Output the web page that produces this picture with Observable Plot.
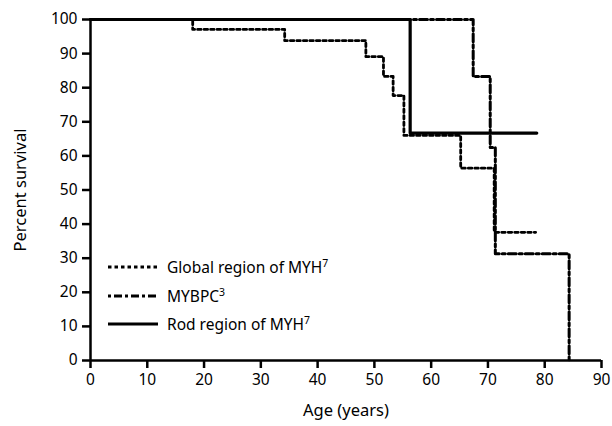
<!DOCTYPE html>
<html>
<head>
<meta charset="utf-8">
<script src="https://cdn.jsdelivr.net/npm/d3@7"></script>
<script src="https://cdn.jsdelivr.net/npm/@observablehq/plot@0.6"></script>
<style>
  body { margin: 0; background: #fff; }
  #wrap { position: relative; width: 612px; height: 426px; font-family: "Noto Sans", sans-serif; }
  #legend { position: absolute; left: 108px; top: 253px; font-size: 15.5px; color: #000; }
  #legend .row { display: flex; align-items: center; height: 28.5px; }
  #legend svg { margin-right: 9px; }
  sup { font-size: 10.5px; vertical-align: 6px; line-height: 0; }
</style>
</head>
<body>
<div id="wrap"></div>
<script>
// Kaplan-Meier step data (age in years, percent survival)
const globalAge  = [0, 18.0, 34.2, 48.5, 51.6, 53.3, 55.2, 65.2, 71.1, 78.4];
const globalSurv = [100, 97.1, 93.8, 89.1, 83.3, 77.7, 66.0, 56.4, 37.6, 37.6];
const mybpcAge   = [0, 67.4, 70.4, 71.3, 84.3];
const mybpcSurv  = [100, 83.3, 62.5, 31.3, 0];
const rodAge     = [0, 56.3, 78.6];
const rodSurv    = [100, 66.7, 66.7];
const xTicks = [0, 10, 20, 30, 40, 50, 60, 70, 80, 90];
const yTicks = [0, 10, 20, 30, 40, 50, 60, 70, 80, 90, 100];
const seriesNames = ["Global region of MYH", "MYBPC", "Rod region of MYH"];
const seriesSup = ["7", "3", "7"];

const toRows = (ages, surv) => ages.map((a, i) => ({age: a, surv: surv[i]}));
const globalRows = toRows(globalAge, globalSurv);
const mybpcRows = toRows(mybpcAge, mybpcSurv);
const rodRows = toRows(rodAge, rodSurv);

const dash = {
  global: "3.5,3",
  mybpc: "3,3,8,3",
  rod: null
};

const chart = Plot.plot({
  width: 612,
  height: 426,
  marginLeft: 90,
  marginRight: 11,
  marginTop: 19,
  marginBottom: 66,
  style: {fontFamily: "Noto Sans, sans-serif", fontSize: "15.5px", color: "#000"},
  x: {domain: [0, 90]},
  y: {domain: [0, 100]},
  marks: [
    Plot.line(mybpcRows, {x: "age", y: "surv", curve: "step-after", stroke: "#000", strokeWidth: 3, strokeDasharray: dash.mybpc}),
    Plot.line(globalRows, {x: "age", y: "surv", curve: "step-after", stroke: "#000", strokeWidth: 2.8, strokeDasharray: dash.global}),
    Plot.line(rodRows, {x: "age", y: "surv", curve: "step-after", stroke: "#000", strokeWidth: 3.2}),
    Plot.axisX({ticks: xTicks, tickSize: 8, strokeWidth: 2.5, tickPadding: 5, fontSize: 15.5, label: "Age (years)", labelAnchor: "center", labelArrow: "none", labelOffset: 55}),
    Plot.axisY({ticks: yTicks, tickSize: 8, strokeWidth: 2.5, tickPadding: 5, fontSize: 15.5, label: "Percent survival", labelAnchor: "center", labelArrow: "none", labelOffset: 76}),
    Plot.ruleY([0], {stroke: "#000", strokeWidth: 2.5}),
    Plot.ruleX([0], {stroke: "#000", strokeWidth: 2.5})
  ]
});
chart.querySelectorAll("g[aria-label='x-axis label'] text, g[aria-label='y-axis label'] text").forEach(t => { t.style.fontSize = "16.5px"; });
const wrap = document.getElementById("wrap");
wrap.appendChild(chart);

// legend overlay
const legend = document.createElement("div");
legend.id = "legend";
const dashes = [dash.global, dash.mybpc, dash.rod];
const widths = [2.8, 3, 3.2];
seriesNames.forEach((name, i) => {
  const row = document.createElement("div");
  row.className = "row";
  const ns = "http://www.w3.org/2000/svg";
  const s = document.createElementNS(ns, "svg");
  s.setAttribute("width", 50); s.setAttribute("height", 10);
  const l = document.createElementNS(ns, "line");
  l.setAttribute("x1", 0); l.setAttribute("x2", 50); l.setAttribute("y1", 5); l.setAttribute("y2", 5);
  l.setAttribute("stroke", "#000"); l.setAttribute("stroke-width", widths[i]);
  if (dashes[i]) l.setAttribute("stroke-dasharray", dashes[i]);
  s.appendChild(l);
  row.appendChild(s);
  const t = document.createElement("span");
  t.innerHTML = name + "<sup>" + seriesSup[i] + "</sup>";
  row.appendChild(t);
  legend.appendChild(row);
});
wrap.appendChild(legend);
</script>
</body>
</html>
